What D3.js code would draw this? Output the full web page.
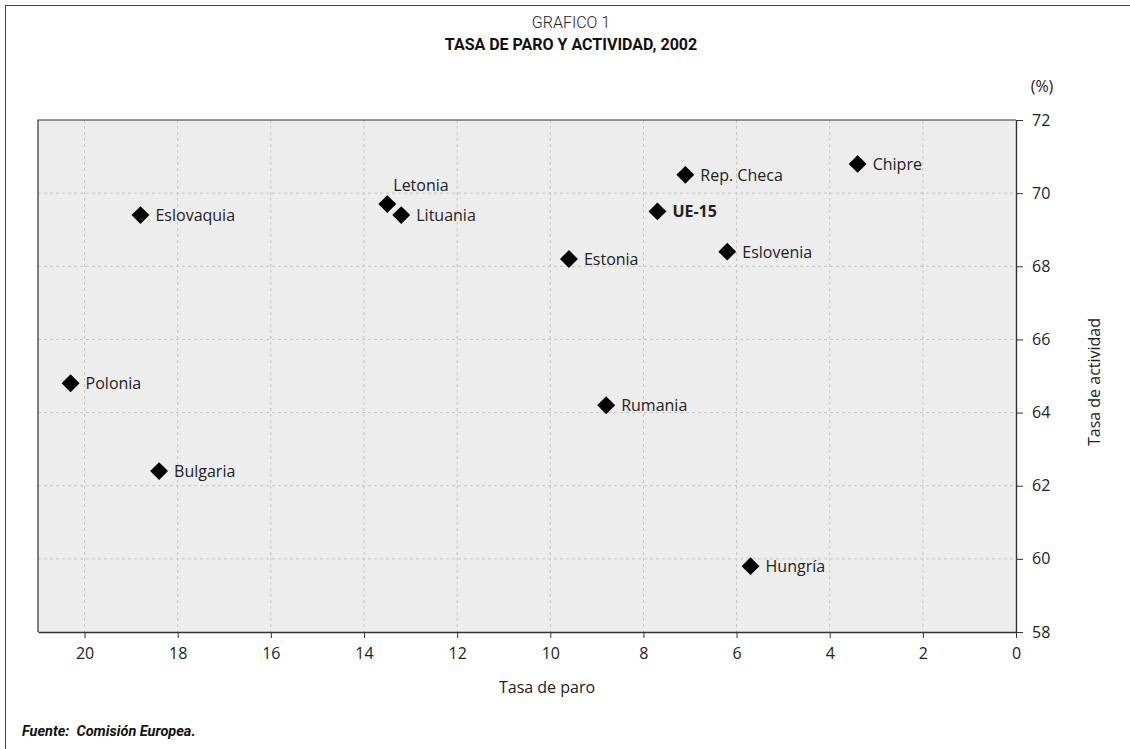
<!doctype html>
<html>
<head>
<meta charset="utf-8">
<style>
  body { margin: 0; background: #fff; }
  svg { display: block; font-family: "Open Sans", "Noto Sans", sans-serif; }
  .grid line { stroke: #c4c4c4; stroke-width: 1; stroke-dasharray: 3,3; }
  .axis text { font-size: 16px; fill: #222; }
  .axis path, .axis line { stroke: #333; }
  .lbl { font-size: 16px; fill: #222; }
</style>
<script src="https://d3js.org/d3.v7.min.js"></script>
</head>
<body>
<svg width="1130" height="749"></svg>
<script>
// data
var paises = ["Polonia", "Eslovaquia", "Bulgaria", "Letonia", "Lituania", "Estonia",
              "Rumania", "UE-15", "Rep. Checa", "Eslovenia", "Hungría", "Chipre"];
var tasaParo = [20.3, 18.8, 18.4, 13.5, 13.2, 9.6, 8.8, 7.7, 7.1, 6.2, 5.7, 3.4];
var tasaActividad = [64.8, 69.4, 62.4, 69.7, 69.4, 68.2, 64.2, 69.5, 70.5, 68.4, 59.8, 70.8];
var xTicks = [20, 18, 16, 14, 12, 10, 8, 6, 4, 2, 0];
var yTicks = [58, 60, 62, 64, 66, 68, 70, 72];

var destacado = "UE-15";       // bold label
var etiquetaArriba = ["Letonia"]; // label drawn above the marker

var svg = d3.select("svg");

// outer frame (only top and left edges fall inside the picture)
svg.append("rect")
   .attr("x", 5.5).attr("y", 5.5)
   .attr("width", 1140).attr("height", 760)
   .attr("fill", "none")
   .attr("stroke", "#444")
   .attr("stroke-width", 1);

var mLeft = 38, mRight = 1016, mTop = 120, mBottom = 632;

var x = d3.scaleLinear().domain([21, 0]).range([mLeft, mRight]);
var y = d3.scaleLinear().domain([58, 72]).range([mBottom, mTop]);

// plot background
svg.append("rect")
   .attr("x", mLeft).attr("y", mTop)
   .attr("width", mRight - mLeft).attr("height", mBottom - mTop)
   .attr("fill", "#ededed");

// grid
var grid = svg.append("g").attr("class", "grid");
grid.selectAll(".gx")
    .data(xTicks.filter(function(d) { return d > 0; }))
    .enter().append("line")
    .attr("x1", function(d) { return x(d); })
    .attr("x2", function(d) { return x(d); })
    .attr("y1", mTop).attr("y2", mBottom);
grid.selectAll(".gy")
    .data(yTicks.filter(function(d) { return d > 58 && d < 72; }))
    .enter().append("line")
    .attr("x1", mLeft).attr("x2", mRight)
    .attr("y1", function(d) { return y(d); })
    .attr("y2", function(d) { return y(d); });

// left and top border of the plot
svg.append("path")
   .attr("d", "M" + mLeft + "," + mBottom + "V" + mTop + "H" + mRight)
   .attr("fill", "none")
   .attr("stroke", "#333")
   .attr("stroke-width", 1.2);

// axes
var xAxis = svg.append("g")
   .attr("class", "axis")
   .attr("transform", "translate(0," + mBottom + ")")
   .call(d3.axisBottom(x).tickValues(xTicks).tickSize(6).tickPadding(10).tickSizeOuter(0));
xAxis.select(".domain").attr("stroke", "#111").attr("stroke-width", 1.6);

var yAxis = svg.append("g")
   .attr("class", "axis")
   .attr("transform", "translate(" + mRight + ",0)")
   .call(d3.axisRight(y).tickValues(yTicks).tickSize(7).tickPadding(9).tickSizeOuter(0));
yAxis.select(".domain").attr("stroke", "#444").attr("stroke-width", 1.4);
svg.selectAll(".axis text")
   .attr("font-family", "'Open Sans', sans-serif")
   .attr("font-size", 16);

// titles
svg.append("text")
   .attr("x", 571).attr("y", 28)
   .attr("text-anchor", "middle")
   .attr("font-family", "Roboto, sans-serif")
   .attr("font-weight", 300)
   .attr("font-size", 16)
   .attr("fill", "#222")
   .text("GRAFICO 1");

svg.append("text")
   .attr("x", 571).attr("y", 50)
   .attr("text-anchor", "middle")
   .attr("font-family", "Roboto, sans-serif")
   .attr("font-weight", 700)
   .attr("font-size", 16)
   .attr("fill", "#111")
   .text("TASA DE PARO Y ACTIVIDAD, 2002");

svg.append("text")
   .attr("x", 1042).attr("y", 92)
   .attr("text-anchor", "middle")
   .attr("font-size", 16)
   .attr("fill", "#222")
   .text("(%)");

svg.append("text")
   .attr("x", 547).attr("y", 693)
   .attr("text-anchor", "middle")
   .attr("font-size", 16)
   .attr("fill", "#222")
   .text("Tasa de paro");

svg.append("text")
   .attr("transform", "translate(1100," + ((mTop + mBottom) / 2 + 6) + ") rotate(-90)")
   .attr("text-anchor", "middle")
   .attr("font-size", 16)
   .attr("fill", "#222")
   .text("Tasa de actividad");

svg.append("text")
   .attr("x", 22).attr("y", 736)
   .attr("font-family", "Roboto, sans-serif")
   .attr("font-weight", 700)
   .attr("font-style", "italic")
   .attr("font-size", 14.5)
   .attr("fill", "#111")
   .attr("xml:space", "preserve")
   .text("Fuente:  Comisión Europea.");

// points
var puntos = paises.map(function(p, i) {
    return { pais: p, paro: tasaParo[i], act: tasaActividad[i] };
});

var diamond = d3.symbol().type(d3.symbolSquare).size(160);

var g = svg.append("g");
g.selectAll(".pt")
 .data(puntos)
 .enter().append("path")
 .attr("class", "pt")
 .attr("d", diamond)
 .attr("fill", "#000")
 .attr("transform", function(d) {
     return "translate(" + x(d.paro) + "," + y(d.act) + ") rotate(45)";
 });

g.selectAll(".lbl")
 .data(puntos)
 .enter().append("text")
 .attr("class", "lbl")
 .attr("x", function(d) {
     return x(d.paro) + (etiquetaArriba.indexOf(d.pais) >= 0 ? 6 : 15);
 })
 .attr("y", function(d) {
     return y(d.act) + (etiquetaArriba.indexOf(d.pais) >= 0 ? -13 : 6);
 })
 .attr("font-weight", function(d) { return d.pais === destacado ? 700 : 400; })
 .text(function(d) { return d.pais; });
</script>
</body>
</html>
